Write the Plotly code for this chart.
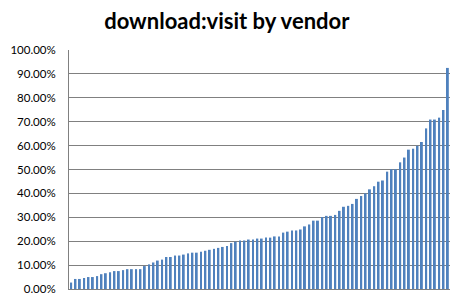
import plotly.graph_objects as go

ratio_pct = [
    2.7, 4.2, 4.2, 4.6, 5.0, 5.0, 5.4, 6.2, 6.6, 7.0, 7.5, 7.5,
    7.9, 8.3, 8.3, 8.3, 8.3, 9.6, 10.3, 11.1, 11.9, 12.3, 13.4, 13.4, 14.0,
    14.0, 14.4, 14.9, 15.2, 15.2, 15.6, 16.0, 16.4, 16.8, 17.2, 17.6, 18.0, 19.2,
    19.8, 20.3, 20.3, 20.7, 20.7, 21.1, 21.1, 21.5, 21.5, 22.0, 22.0, 23.6, 24.0,
    24.5, 24.5, 24.9, 26.2, 27.0, 28.6, 28.6, 30.1, 30.6, 30.6, 31.0, 32.7,
    34.4, 34.8, 35.6, 37.7, 38.9, 40.0, 41.7, 43.0, 44.9, 45.4, 49.1, 50.1, 50.1,
    53.0, 55.0, 58.3, 58.7, 59.9, 61.5, 67.2, 70.9, 70.9, 71.7, 74.9, 92.5,
]
vendors = [f"V{i+1}" for i in range(len(ratio_pct))]
values = [v / 100 for v in ratio_pct]
y_ticks = [i / 10 for i in range(11)]

fig = go.Figure(go.Bar(x=vendors, y=values, marker=dict(color="#4F81BD", line=dict(width=0))))

fig.update_layout(
    width=460, height=305,
    margin=dict(l=65, r=10, t=50, b=10),
    paper_bgcolor="white", plot_bgcolor="white",
    bargap=0.55,
    showlegend=False,
    title=dict(text="<b>download:visit by vendor</b>", x=0.493, xanchor="center",
               y=0.93, yanchor="middle",
               font=dict(family="Lato", size=22, color="black")),
    xaxis=dict(showticklabels=False, showgrid=False, showline=True, linecolor="#808080",
               linewidth=1, ticks=""),
    yaxis=dict(range=[0, 1.0], tickvals=y_ticks, tickformat=".2%", showgrid=True,
               gridcolor="#808080", gridwidth=1, showline=True, linecolor="#808080",
               linewidth=1, ticks="", ticklabelstandoff=10,
               tickfont=dict(family="Lato", size=11.5, color="black"), zeroline=False),
)

fig.write_html("out.html")
